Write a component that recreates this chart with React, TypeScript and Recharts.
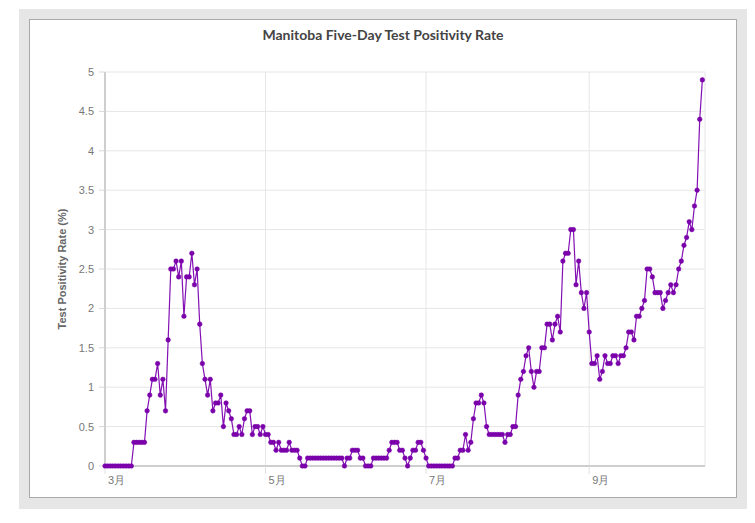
import { LineChart, Line, XAxis, YAxis, CartesianGrid } from 'recharts'

const TITLE = 'Manitoba Five-Day Test Positivity Rate'
const Y_LABEL = 'Test Positivity Rate (%)'

// five-day positivity (%), one value per day starting Mar 1
const RATES = [
  0, 0, 0, 0, 0, 0, 0, 0, 0, 0, 0,
  0.3, 0.3, 0.3, 0.3, 0.3,
  0.7, 0.9, 1.1, 1.1, 1.3, 0.9, 1.1, 0.7, 1.6,
  2.5, 2.5, 2.6, 2.4, 2.6, 1.9, 2.4, 2.4, 2.7, 2.3, 2.5,
  1.8, 1.3, 1.1, 0.9, 1.1, 0.7, 0.8, 0.8, 0.9, 0.5,
  0.8, 0.7, 0.6, 0.4, 0.4, 0.5, 0.4, 0.6, 0.7, 0.7,
  0.4, 0.5, 0.5, 0.4, 0.5, 0.4, 0.4, 0.3, 0.3, 0.2,
  0.3, 0.2, 0.2, 0.2, 0.3, 0.2, 0.2, 0.2, 0.1, 0, 0,
  0.1, 0.1, 0.1, 0.1, 0.1, 0.1, 0.1, 0.1, 0.1, 0.1, 0.1, 0.1, 0.1, 0.1,
  0, 0.1, 0.1, 0.2, 0.2, 0.2, 0.1, 0.1, 0, 0, 0,
  0.1, 0.1, 0.1, 0.1, 0.1, 0.1,
  0.2, 0.3, 0.3, 0.3, 0.2, 0.2, 0.1, 0, 0.1, 0.2, 0.2, 0.3, 0.3, 0.2, 0.1,
  0, 0, 0, 0, 0, 0, 0, 0, 0, 0,
  0.1, 0.1, 0.2, 0.2, 0.4, 0.2, 0.3, 0.6, 0.8, 0.8, 0.9, 0.8, 0.5,
  0.4, 0.4, 0.4, 0.4, 0.4, 0.4, 0.3, 0.4, 0.4, 0.5, 0.5,
  0.9, 1.1, 1.2, 1.4, 1.5, 1.2, 1.0, 1.2, 1.2, 1.5, 1.5,
  1.8, 1.8, 1.6, 1.8, 1.9, 1.7, 2.6, 2.7, 2.7, 3.0, 3.0,
  2.3, 2.6, 2.2, 2.0, 2.2, 1.7, 1.3, 1.3, 1.4, 1.1, 1.2,
  1.4, 1.3, 1.3, 1.4, 1.4, 1.3, 1.4, 1.4, 1.5, 1.7, 1.7,
  1.6, 1.9, 1.9, 2.0, 2.1, 2.5, 2.5, 2.4, 2.2, 2.2, 2.2,
  2.0, 2.1, 2.2, 2.3, 2.2, 2.3, 2.5, 2.6, 2.8, 2.9, 3.1,
  3.0, 3.3, 3.5, 4.4, 4.9,
]

// day index (from Mar 1) of each month tick
const MONTH_TICKS = [0, 61, 122, 184]
const MONTH_LABELS = ['3月', '5月', '7月', '9月']
const Y_TICKS = [0, 0.5, 1, 1.5, 2, 2.5, 3, 3.5, 4, 4.5, 5]

const data = RATES.map((rate, day) => ({ day, rate }))

const PURPLE = '#8410b4'
const TICK_FONT = '"Liberation Sans", Arial, sans-serif'

function MonthTick({ x, y, payload }: any) {
  const idx = MONTH_TICKS.indexOf(payload.value)
  return (
    <text x={x + 3} y={y + 8} textAnchor="start" fill="#777" fontSize={11} fontFamily={TICK_FONT}>
      {MONTH_LABELS[idx]}
    </text>
  )
}

function YTitle({ viewBox }: any) {
  const cx = viewBox.x + 12
  const cy = viewBox.y + viewBox.height / 2
  return (
    <text
      x={cx}
      y={cy}
      transform={`rotate(-90, ${cx}, ${cy})`}
      textAnchor="middle"
      dominantBaseline="central"
      fill="#666"
      fontSize={11}
      fontWeight="bold"
      fontFamily={TICK_FONT}
    >
      {Y_LABEL}
    </text>
  )
}

export default function App() {
  return (
    <div style={{ position: 'relative', marginLeft: 11, marginTop: 1, width: 728, height: 500, background: '#e6e6e6' }}>
      <div
        style={{
          position: 'absolute',
          left: 10,
          top: 10,
          width: 708,
          height: 479,
          boxSizing: 'border-box',
          border: '1px solid #a9a9a9',
          background: '#fff',
        }}
      >
        <div
          style={{
            position: 'absolute',
            left: 0,
            top: 6,
            width: '100%',
            textAlign: 'center',
            fontFamily: 'Lato, sans-serif',
            fontWeight: 'bold',
            fontSize: 14,
            color: '#444',
          }}
        >
          {TITLE}
        </div>
        <div style={{ position: 'absolute', left: 0, top: 0 }}>
          <LineChart width={706} height={477} data={data} margin={{ top: 52, right: 31, left: 20, bottom: 0 }}>
            <CartesianGrid stroke="#e6e6e6" strokeWidth={1} />
            <XAxis
              dataKey="day"
              type="number"
              domain={[0, 228]}
              ticks={MONTH_TICKS}
              tick={<MonthTick />}
              height={31}
              axisLine={{ stroke: '#a9a9a9' }}
              tickLine={{ stroke: '#e0e0e0' }}
              tickSize={8}
              interval={0}
            />
            <YAxis
              type="number"
              domain={[0, 5]}
              ticks={Y_TICKS}
              width={55}
              axisLine={{ stroke: '#a9a9a9' }}
              tickLine={{ stroke: '#d8d8d8' }}
              tickSize={6}
              tickMargin={5}
              tick={{ fill: '#777', fontSize: 11, fontFamily: TICK_FONT }}
              interval={0}
              label={{ content: <YTitle /> }}
            />
            <Line
              type="linear"
              dataKey="rate"
              stroke={PURPLE}
              strokeWidth={1.2}
              dot={{ r: 2.3, fill: '#7a00aa', stroke: '#7a00aa', strokeWidth: 0.5 }}
              isAnimationActive={false}
            />
          </LineChart>
        </div>
      </div>
    </div>
  )
}
